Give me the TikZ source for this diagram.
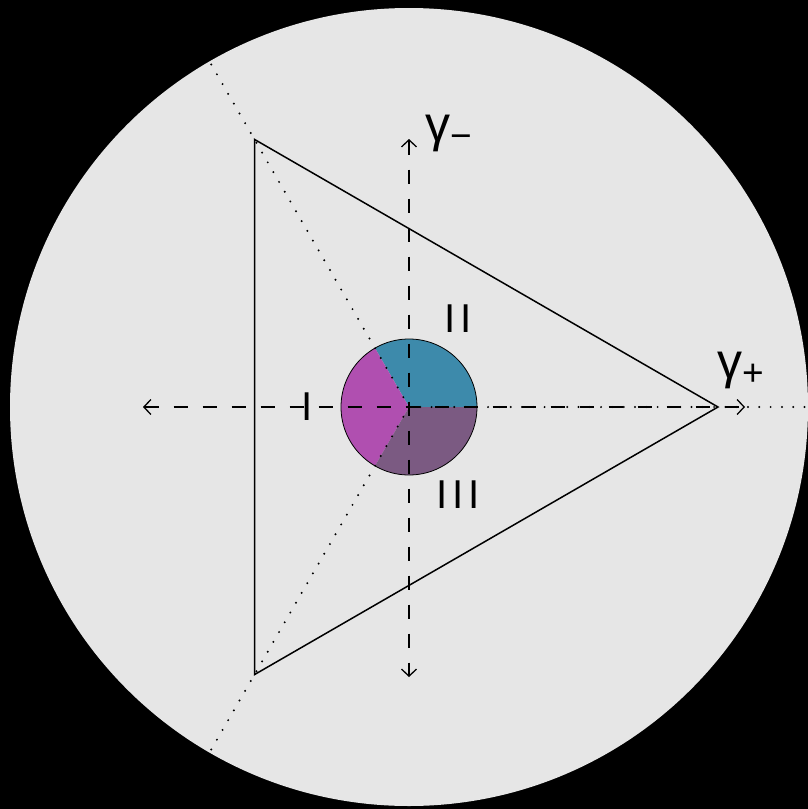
\documentclass[tikz,border=0pt]{standalone}
\usepackage{fontspec}
\setmainfont{DejaVu Sans}
\newfontfamily\gfont{Liberation Sans}
\usetikzlibrary{arrows.meta}
\definecolor{bgray}{HTML}{E6E6E6}
\definecolor{sblue}{HTML}{3D8AAB}
\definecolor{smag}{HTML}{B04FB0}
\definecolor{spur}{HTML}{7B5A82}
\newcommand{\gsub}[1]{\raisebox{-7pt}{\fontsize{37}{37}\selectfont #1}}
\begin{document}
\begin{tikzpicture}[x=1pt,y=-1pt,
  axisline/.style={line width=1.5pt,dash pattern=on 14pt off 15pt,
    {Straight Barb[length=7pt,width=15pt,line width=1.3pt]}-{Straight Barb[length=7pt,width=15pt,line width=1.3pt]}},
  dotline/.style={line width=2.2pt,line cap=round,dash pattern=on 0pt off 11.3pt},
  tri/.style={line width=1.5pt,line join=miter},
  lbl/.style={inner sep=0pt,font=\fontsize{38}{40}\selectfont},
  glbl/.style={inner sep=0pt,anchor=base west,font=\gfont\fontsize{50}{52}\selectfont}]
\useasboundingbox (0,0) rectangle (808,809);
\fill[black] (0,0) rectangle (808,809);
\begin{scope}
\clip (0,0) rectangle (808,809);
\coordinate (C) at (409,407);
\fill[bgray] (C) circle[radius=399];
% sectors
\fill[sblue] (C) -- ++(68,0) arc[start angle=0,end angle=-120,radius=68] -- cycle;
\fill[smag] (C) -- ++(-34,-58.89) arc[start angle=-120,end angle=-240,radius=68] -- cycle;
\fill[spur] (C) -- ++(-34,58.89) arc[start angle=-240,end angle=-360,radius=68] -- cycle;
\draw[line width=0.8pt] (C) circle[radius=68];
% triangle
\coordinate (A) at (718,407);
\coordinate (B) at (254.5,139.4);
\coordinate (D) at (254.5,674.6);
\draw[tri] (A) -- (B) -- (D) -- cycle;
% dotted rays
\coordinate (E1) at (209,60.6);
\coordinate (E2) at (209,753.4);
\coordinate (E3) at (812,407);
\draw[dotline] (C) -- (E1);
\draw[dotline] (C) -- (E2);
\draw[dotline] (C) -- (E3);
% axes
\coordinate (L) at (143,407);
\coordinate (R) at (745,407);
\coordinate (T) at (409,139);
\coordinate (Bt) at (409,677);
\draw[axisline] (L) -- (R);
\draw[axisline] (T) -- (Bt);
% labels
\node[glbl] (gm) at (425,141.5) {γ\kern0pt\gsub{−}};
\node[glbl] (gp) at (717,378.5) {γ\kern0pt\gsub{+}};
\node[lbl] (n1) at (307,407) {I};
\node[lbl] (n2) at (458,319) {I\kern5pt I};
\node[lbl] (n3) at (458,495) {I\kern4.5pt I\kern4.5pt I};
\end{scope}
\end{tikzpicture}
\end{document}
